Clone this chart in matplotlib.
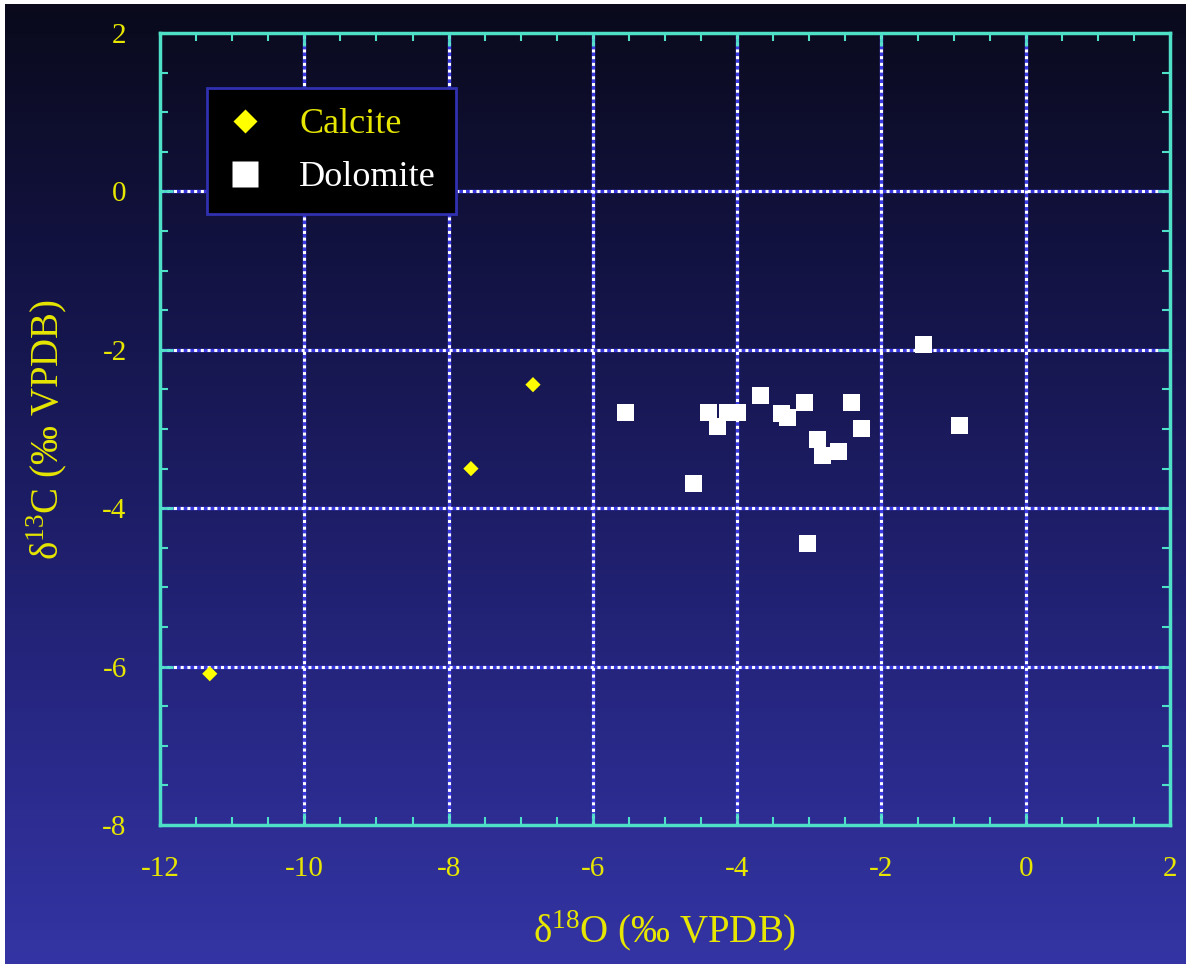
import numpy as np
import matplotlib
matplotlib.use("Agg")
import matplotlib.pyplot as plt
from matplotlib.colors import LinearSegmentedColormap
from matplotlib.lines import Line2D

plt.rcParams['font.family'] = ['Liberation Serif', 'DejaVu Serif']
plt.rcParams['mathtext.fontset'] = 'custom'
plt.rcParams['mathtext.rm'] = 'Liberation Serif'

# Data
calcite_o = [-11.31, -7.69, -6.83]
calcite_c = [-6.09, -3.50, -2.44]
dolomite_o = [-5.55, -4.40, -4.27, -4.13, -4.00, -3.68, -3.38, -3.30, -3.06,
              -2.42, -2.28, -2.88, -2.81, -2.60, -4.61, -3.02, -1.42, -0.92]
dolomite_c = [-2.79, -2.79, -2.97, -2.79, -2.79, -2.58, -2.80, -2.85, -2.67,
              -2.66, -2.99, -3.13, -3.34, -3.29, -3.69, -4.44, -1.93, -2.95]
x_ticks = [-12, -10, -8, -6, -4, -2, 0, 2]
y_ticks = [-8, -6, -4, -2, 0, 2]

W, H = 1186, 964
fig = plt.figure(figsize=(W / 100, H / 100), dpi=100, facecolor='white')

# background gradient
bg = fig.add_axes([5 / W, 0, 1 - 5 / W, 1 - 4 / H])
cmap = LinearSegmentedColormap.from_list(
    'bg', [(0.0, '#0a0a1c'), (0.25, '#121240'), (0.55, '#1e1e6a'),
           (0.8, '#2a2a8c'), (1.0, '#3434a4')])
grad = np.linspace(0, 1, 256).reshape(-1, 1)
bg.imshow(grad, aspect='auto', cmap=cmap, extent=[0, 1, 0, 1], origin='upper')
bg.axis('off')

ax = fig.add_axes([160 / W, 1 - 825 / H, (1170 - 160) / W, (825 - 33) / H])
ax.set_facecolor('none')
ax.set_xlim(-12, 2)
ax.set_ylim(-8, 2)

cyan = '#4fe0c8'
yellow = '#e6e600'
for s in ax.spines.values():
    s.set_color(cyan)
    s.set_linewidth(2.5)
    s.set_zorder(5)

ax.set_xticks(x_ticks)
ax.set_yticks(y_ticks)
ax.set_xticklabels([str(t) for t in x_ticks])
ax.set_yticklabels([str(t) for t in y_ticks])
ax.set_xticks(np.arange(-12, 2.01, 0.5), minor=True)
ax.set_yticks(np.arange(-8, 2.01, 0.5), minor=True)
ax.tick_params(which='both', direction='in', color=cyan, top=True, right=True,
               labelcolor=yellow, labelsize=21)
ax.tick_params(which='major', length=9, width=2)
ax.tick_params(which='minor', length=6, width=1.5)
ax.tick_params(axis='x', pad=22)
ax.tick_params(axis='y', pad=24)

# grid: blue line with white dots
for xv in x_ticks[1:-1]:
    ax.axvline(xv, color='#3a3ae0', lw=2.5, zorder=1)
    ax.axvline(xv, color='white', lw=2.2, ls=(0, (1, 1.2)), zorder=1.1)
for yv in y_ticks[1:-1]:
    ax.axhline(yv, color='#3a3ae0', lw=2.5, zorder=1)
    ax.axhline(yv, color='white', lw=2.2, ls=(0, (1, 1.2)), zorder=1.1)

ax.scatter(calcite_o, calcite_c, marker='D', s=60, color='#ffff00',
           edgecolors='none', zorder=4)
ax.scatter(dolomite_o, dolomite_c, marker='s', s=150, color='white',
           edgecolors='none', zorder=4)

ax.set_xlabel(r'δ$^{\mathregular{18}}$O (‰ VPDB)', color=yellow, fontsize=28,
              labelpad=20)
ax.set_ylabel(r'δ$^{\mathregular{13}}$C (‰ VPDB)', color=yellow, fontsize=28,
              labelpad=23)

handles = [Line2D([], [], marker='D', ls='none', color='#ffff00', markersize=12.5,
                  markeredgecolor='none'),
           Line2D([], [], marker='s', ls='none', color='white', markersize=18.5,
                  markeredgecolor='none')]
leg = ax.legend(handles, ['Calcite', 'Dolomite'], loc='upper left',
                bbox_to_anchor=((207 - 160) / 1010, (825 - 88) / 792),
                fontsize=26, frameon=True, fancybox=False, facecolor='black',
                edgecolor='#3030b0', framealpha=1, borderpad=0.55,
                handletextpad=1.0, labelspacing=0.55, handlelength=1.0,
                borderaxespad=0)
leg.get_frame().set_linewidth(2)
leg.set_zorder(6)
for txt, c in zip(leg.get_texts(), ['#e6e600', 'white']):
    txt.set_color(c)

fig.savefig('out.png', dpi=100, facecolor=fig.get_facecolor())
